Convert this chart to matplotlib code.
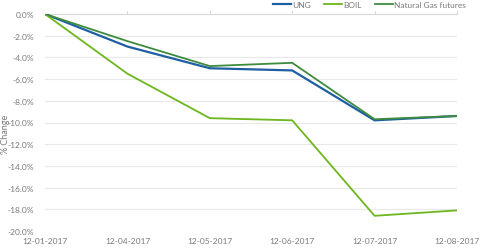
import matplotlib.pyplot as plt
import numpy as np

dates = ["12-01-2017", "12-04-2017", "12-05-2017", "12-06-2017", "12-07-2017", "12-08-2017"]
ung = [0.0, -3.0, -5.0, -5.2, -9.8, -9.4]
boil = [0.0, -5.5, -9.6, -9.8, -18.6, -18.1]
natgas = [0.0, -2.5, -4.8, -4.5, -9.7, -9.4]

plt.rcParams['font.family'] = ['Lato', 'DejaVu Sans']

fig = plt.figure(figsize=(4.8, 2.51), dpi=100)
ax = fig.add_axes([45/480, 1 - 232/251, 412/480, 217/251])

x = np.arange(len(dates))
ax.plot(x, ung, color='#1e5fa3', lw=1.6, label='UNG', zorder=3)
ax.plot(x, boil, color='#6cb61e', lw=1.3, label='BOIL', zorder=3)
ax.plot(x, natgas, color='#3d8b3d', lw=1.3, label='Natural Gas futures', zorder=3)

ax.set_xlim(0, len(dates) - 1)
ax.set_ylim(-20, 0)
ax.set_yticks(np.arange(-20, 0.1, 2))
ax.set_yticklabels([f"{v:.1f}%" for v in np.arange(-20, 0.1, 2)])
ax.set_xticks(x)
ax.set_xticklabels(dates)
ax.grid(axis='y', color='#e8e8e8', lw=0.8)
for s in ['left', 'right', 'bottom']:
    ax.spines[s].set_visible(False)
ax.spines['top'].set_color('#d9d9d9')
ax.spines['top'].set_linewidth(0.8)
ax.tick_params(axis='y', length=0, labelsize=6, labelcolor='#7a7a7a', pad=8)
ax.tick_params(axis='x', length=0, labelsize=6, labelcolor='#7a7a7a', pad=4)
# small category ticks along the top axis line
for xi in x[1:]:
    ax.plot([xi, xi], [0, 0.3], color='#d9d9d9', lw=0.8, clip_on=False)

ax.set_ylabel('% Change', fontsize=6.5, color='#7a7a7a')
ax.yaxis.set_label_coords(-0.085, 0.45)

ax.legend(loc='upper right', bbox_to_anchor=(1.03, 1.075), ncol=3, frameon=False,
          fontsize=6, labelcolor='#7a7a7a', handlelength=2.2, handletextpad=0.1,
          columnspacing=1.6, borderaxespad=0)

fig.savefig('out.png', dpi=100)
